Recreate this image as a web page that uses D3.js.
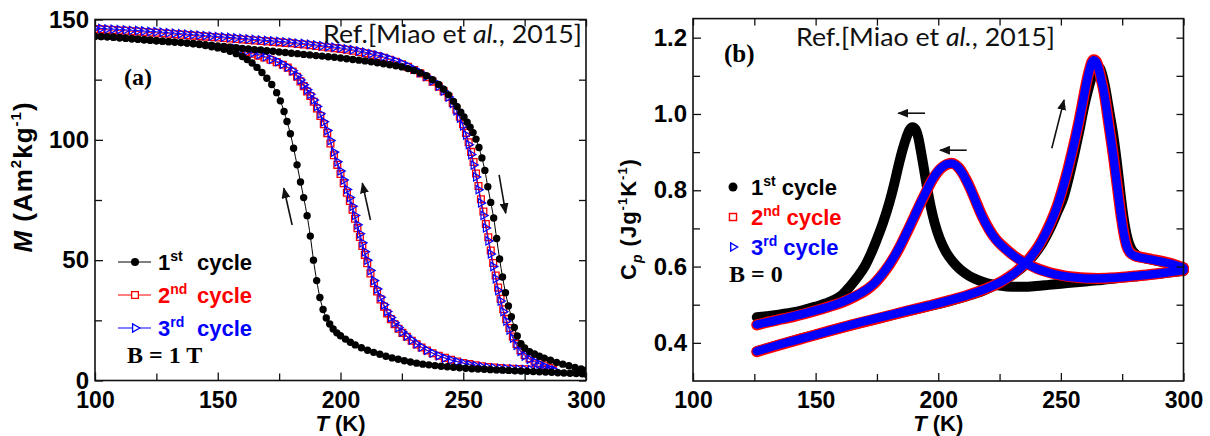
<!DOCTYPE html>
<html><head><meta charset="utf-8">
<script src="https://cdn.jsdelivr.net/npm/d3@7/dist/d3.min.js"></script>
<style>body{margin:0;background:#fff}svg{display:block}</style>
</head><body><svg id="c" width="1210" height="436"></svg>
<script>
// ---------------- DATA: panel (a) M(T), B = 1 T ----------------
const cycle1Low = [[100,143.0],[102.5,142.9],[105,142.8],[107.5,142.6],[110,142.4],[112.5,142.2],[115,142.0],[117.5,141.8],[120,141.6],[122.5,141.4],[125,141.2],[127.5,141.0],[130,140.8],[132.5,140.6],[135,140.4],[137.5,140.2],[140,139.9],[142.5,139.6],[145,139.2],[147.5,138.7],[150,138.2],[152.5,137.6],[155,136.8],[157.5,135.8],[160,134.6],[162,133.4],[164,131.9],[166,130.1],[168,128.0],[170,125.6],[172,123.0],[174,119.6],[175.5,116.2],[177,111.8],[178.2,107.6],[179.6,102.5],[180.9,96.5],[182.3,89.6],[183.7,82.5],[185,76.0],[186.4,68.5],[187.7,60.0],[189,50.0],[190.3,41.5],[191.6,34.5],[192.9,29.5],[194.2,26.0],[195.6,23.5],[197,21.4],[198.5,19.8],[200,18.6],[202,17.2],[204,15.9],[206,14.8],[208.5,13.6],[211,12.6],[213.5,11.7],[216,10.9],[218.5,10.1],[221,9.4],[223.5,8.8],[226,8.2],[228.5,7.7],[231,7.2],[233.5,6.8],[236,6.5],[238.5,6.2],[241,5.9],[243.5,5.7],[246,5.5],[248.5,5.3],[251,5.1],[253.5,4.9],[256,4.8],[258.5,4.7],[261,4.5],[263.5,4.4],[266,4.3],[268.5,4.2],[271,4.0],[273.5,3.9],[276,3.8],[278.5,3.7],[281,3.6],[283.5,3.5],[286,3.4],[288.5,3.2],[291,3.1],[293.5,3.0],[296,2.9],[298.5,2.8],[300,2.7]];
const cycle1High = [[100,143.0],[102.5,142.9],[105,142.8],[107.5,142.6],[110,142.4],[112.5,142.2],[115,142.0],[117.5,141.8],[120,141.6],[122.5,141.4],[125,141.2],[127.5,141.0],[130,140.8],[132.5,140.6],[135,140.4],[137.5,140.2],[140,140.0],[142.5,139.8],[145,139.5],[147.5,139.3],[150,139.0],[152.5,138.8],[155,138.5],[157.5,138.3],[160,138.0],[162.5,137.8],[165,137.5],[167.5,137.3],[170,137.0],[172.5,136.8],[175,136.5],[177.5,136.3],[180,136.0],[182.5,135.8],[185,135.5],[187.5,135.3],[190,135.0],[192.5,134.8],[195,134.5],[197.5,134.3],[200,134.0],[202.5,133.7],[205,133.4],[207.5,133.1],[210,132.8],[212.5,132.4],[215,132.0],[217.5,131.6],[220,131.2],[222.5,130.8],[225,130.3],[227.5,129.6],[230,128.8],[232.5,127.8],[235,126.6],[237.5,125.0],[240,123.0],[242,121.0],[244,118.7],[246,116.0],[247.5,113.8],[249,111.5],[250.3,109.5],[251.6,107.3],[252.8,105.2],[254,103.0],[255.2,100.3],[256.4,96.8],[257.6,92.5],[258.8,87.3],[260,80.5],[261.2,74.0],[262.4,67.5],[263.6,59.0],[264.8,50.5],[266,43.0],[267.2,36.5],[268.4,31.0],[269.6,26.5],[270.8,22.0],[272,18.5],[273.5,15.3],[275,13.5],[277,12.0],[279,11.0],[281,10.1],[283,9.3],[285.5,8.4],[288,7.5],[290.5,6.8],[293,6.1],[295.5,5.4],[298,4.8],[300,4.3]];
const cycle2Low = [[154,138.2],[156.5,137.7],[159,137.1],[161.5,136.5],[164,135.8],[166.5,135.0],[169,134.2],[171.5,133.3],[174,132.3],[176.5,131.2],[178.5,130.0],[180.5,128.4],[182.3,126.2],[183.7,124.3],[185,122.3],[186.4,120.1],[187.7,118.2],[189.1,115.8],[190.4,113.0],[191.8,109.9],[193.2,106.5],[194.6,102.8],[195.9,98.5],[197.3,93.6],[198.7,89.6],[200,85.8],[201.3,82.0],[202.6,78.0],[203.8,74.6],[204.9,71.0],[205.9,67.2],[206.9,63.3],[207.9,59.6],[208.9,55.9],[209.9,52.2],[210.9,48.7],[212.2,44.5],[213.6,40.4],[214.9,37.0],[216.3,33.7],[217.7,30.7],[219,27.9],[220.5,25.5],[222,23.4],[223.6,21.5],[225.2,19.8],[227,18.2],[229,16.5],[231,15.0],[233,13.7],[235.2,12.5],[237.5,11.3],[240,10.3],[242.5,9.4],[245,8.6],[247.5,7.9],[250,7.3],[252.5,6.8],[255,6.3],[257.5,5.9],[260,5.6],[262.5,5.4],[265,5.2],[267.5,5.0],[270,4.9],[272.5,4.8],[275,4.7],[277.5,4.6],[280,4.5],[282.5,4.4],[285,4.3]];
const cycle3Low = [[157,138.0],[159.5,137.5],[162,136.9],[164.5,136.2],[167,135.4],[169.5,134.5],[172,133.5],[174.5,132.5],[176.5,131.4],[178.5,130.2],[180.5,128.7],[182.3,126.7],[183.7,124.9],[185,122.9],[186.4,120.8],[187.7,118.9],[189.1,116.6],[190.4,113.9],[191.8,110.8],[193.2,107.5],[194.6,103.9],[195.9,99.7],[197.3,94.9],[198.7,90.9],[200,87.1],[201.3,83.3],[202.6,79.4],[203.8,76.0],[204.9,72.4],[205.9,68.6],[206.9,64.7],[207.9,61.0],[208.9,57.2],[209.9,53.5],[210.9,50.0],[212.2,45.7],[213.6,41.5],[214.9,38.0],[216.3,34.6],[217.7,31.5],[219,28.7],[220.5,26.2],[222,24.0],[223.6,22.0],[225.2,20.2],[227,18.5],[229,16.8],[231,15.2],[233,13.9],[235.2,12.6],[237.5,11.4],[240,10.3],[242.5,9.3],[245,8.5],[247.5,7.8],[250,7.2],[252.5,6.6],[255,6.1],[257.5,5.7],[260,5.4],[262.5,5.2],[265,5.0],[267.5,4.9],[270,4.8],[272.5,4.7],[275,4.6],[277.5,4.5],[280,4.4],[282.5,4.3],[285,4.2],[287.5,4.1]];
const cycle2High = [[100,146.0],[102.5,145.9],[105,145.7],[107.5,145.6],[110,145.4],[112.5,145.3],[115,145.1],[117.5,145.0],[120,144.8],[122.5,144.6],[125,144.5],[127.5,144.3],[130,144.1],[132.5,143.9],[135,143.7],[137.5,143.5],[140,143.3],[142.5,143.1],[145,142.9],[147.5,142.7],[150,142.5],[152.5,142.3],[155,142.1],[157.5,141.9],[160,141.7],[162.5,141.5],[165,141.3],[167.5,141.1],[170,140.9],[172.5,140.7],[175,140.5],[177.5,140.3],[180,140.1],[182.5,139.8],[185,139.6],[187.5,139.3],[190,139.0],[192.5,138.7],[195,138.4],[197.5,138.1],[200,137.8],[202.5,137.4],[205,137.0],[207.5,136.5],[210,136.0],[212.5,135.4],[215,134.8],[217.5,134.1],[220,133.3],[222.5,132.4],[225,131.4],[227.5,130.3],[230,129.0],[232.5,127.6],[235,126.0],[237.5,124.2],[240,122.1],[242,120.2],[244,117.8],[245.7,115.3],[247.2,112.5],[248.6,109.6],[249.9,106.5],[251.1,102.9],[252.2,99.0],[253.2,95.0],[254.2,90.8],[255.2,86.0],[256.2,80.8],[257.2,75.3],[258.2,70.2],[259.2,65.0],[260.2,59.5],[261.2,54.0],[262.2,48.8],[263.2,43.6],[264.2,38.6],[265.2,34.0],[266.3,29.6],[267.5,25.6],[268.8,21.8],[270.2,18.3],[271.7,15.2],[273.3,12.6],[275,10.6],[277,9.2],[279,8.2],[281,7.2],[283,6.2],[285,5.2],[286.5,4.5]];
const cycle3High = [[100,146.4],[102.5,146.3],[105,146.1],[107.5,146.0],[110,145.8],[112.5,145.7],[115,145.5],[117.5,145.4],[120,145.2],[122.5,145.0],[125,144.9],[127.5,144.7],[130,144.5],[132.5,144.3],[135,144.1],[137.5,143.9],[140,143.7],[142.5,143.5],[145,143.3],[147.5,143.1],[150,142.9],[152.5,142.7],[155,142.5],[157.5,142.3],[160,142.1],[162.5,141.9],[165,141.7],[167.5,141.5],[170,141.3],[172.5,141.1],[175,140.9],[177.5,140.7],[180,140.5],[182.5,140.2],[185,140.0],[187.5,139.7],[190,139.4],[192.5,139.1],[195,138.8],[197.5,138.5],[200,138.2],[202.5,137.8],[205,137.4],[207.5,136.9],[210,136.4],[212.5,135.8],[215,135.2],[217.5,134.5],[220,133.7],[222.5,132.8],[225,131.8],[227.5,130.7],[230,129.4],[232.5,128.0],[235,126.4],[237.5,124.5],[240,122.3],[242,120.3],[244,117.8],[245.7,115.1],[247.2,112.1],[248.6,109.0],[249.9,105.8],[251.1,102.0],[252.2,98.0],[253.2,93.9],[254.2,89.5],[255.2,84.6],[256.2,79.3],[257.2,73.8],[258.2,68.6],[259.2,63.4],[260.2,58.0],[261.2,52.6],[262.2,47.4],[263.2,42.3],[264.2,37.4],[265.2,33.0],[266.3,28.6],[267.5,24.7],[268.8,21.0],[270.2,17.6],[271.7,14.6],[273.3,12.1],[275,10.2],[277,8.8],[279,7.8],[281,6.9],[283,5.9],[285,5.0],[287,4.3]];

// ---------------- DATA: panel (b) Cp(T), B = 0 ----------------
const cp1Low = [[126,0.467],[130,0.470],[135,0.474],[140,0.479],[145,0.486],[150,0.495],[154,0.503],[158,0.514],[161,0.527],[164,0.548],[167,0.572],[170,0.600],[172.5,0.633],[175,0.672],[177.5,0.715],[180,0.766],[182,0.815],[184,0.870],[185.5,0.907],[187,0.938],[188.3,0.958],[189.5,0.965],[190.7,0.960],[191.8,0.940],[193,0.900],[194.2,0.855],[195.5,0.805],[197,0.755],[198.5,0.715],[200.5,0.675],[203,0.640],[206,0.612],[209,0.592],[212.5,0.576],[216,0.565],[220,0.556],[225,0.550],[230,0.547],[235,0.547],[240,0.549],[245,0.552],[250,0.555],[255,0.558],[260,0.561],[265,0.564],[270,0.567],[275,0.571],[280,0.574],[285,0.578],[290,0.581],[295,0.585],[300,0.588]];
const cp1High = [[126,0.378],[135,0.395],[145,0.413],[155,0.430],[165,0.447],[175,0.463],[185,0.479],[195,0.494],[205,0.510],[212,0.523],[218,0.536],[223,0.550],[227,0.564],[231,0.581],[235,0.602],[239,0.630],[242.5,0.662],[245.5,0.698],[248.5,0.742],[251,0.780],[253.5,0.840],[255.5,0.895],[257.5,0.955],[259.5,1.020],[261,1.060],[262.5,1.095],[263.7,1.115],[264.8,1.125],[265.9,1.120],[267,1.100],[268.2,1.065],[269.4,1.020],[270.6,0.975],[271.8,0.925],[272.8,0.875],[273.8,0.820],[274.8,0.765],[276,0.710],[277.3,0.670],[278.8,0.645],[280.5,0.632],[283,0.624],[287,0.618],[291,0.612],[295,0.606],[300,0.597]];
const cp2Low = [[126,0.447],[131,0.455],[136,0.462],[141,0.469],[146,0.477],[151,0.486],[156,0.496],[160,0.504],[164,0.515],[168,0.528],[171,0.540],[174,0.556],[177,0.578],[180,0.604],[182.5,0.630],[185,0.660],[187.5,0.693],[190,0.727],[192.5,0.762],[195,0.795],[197.5,0.826],[200,0.850],[202,0.862],[204,0.869],[205.5,0.871],[207,0.867],[208.5,0.858],[210,0.844],[211.5,0.826],[213,0.806],[215,0.776],[217,0.745],[219,0.718],[221,0.695],[223.5,0.672],[226,0.655],[228.5,0.641],[231,0.628],[234,0.615],[237,0.605],[240,0.596],[244,0.587],[248,0.580],[252,0.575],[256,0.572],[260,0.570],[265,0.569],[270,0.570],[275,0.572],[280,0.575],[285,0.578],[290,0.582],[295,0.586],[300,0.590]];
const cp3Low = [[126,0.448],[131,0.455],[136,0.462],[141,0.470],[146,0.478],[151,0.487],[156,0.496],[160,0.505],[164,0.516],[168,0.529],[171,0.541],[174,0.557],[177,0.579],[180,0.605],[182.5,0.631],[185,0.661],[187.5,0.694],[190,0.728],[192.5,0.763],[195,0.796],[197.5,0.827],[200,0.851],[202,0.863],[204,0.869],[205.5,0.870],[207,0.866],[208.5,0.857],[210,0.843],[211.5,0.825],[213,0.805],[215,0.775],[217,0.744],[219,0.717],[221,0.694],[223.5,0.671],[226,0.654],[228.5,0.640],[231,0.627],[234,0.614],[237,0.604],[240,0.595],[244,0.586],[248,0.579],[252,0.574],[256,0.571],[260,0.569],[265,0.569],[270,0.570],[275,0.572],[280,0.575],[285,0.578],[290,0.582],[295,0.586],[300,0.590]];
const cp2High = [[126,0.377],[135,0.394],[146,0.414],[156,0.432],[166,0.449],[176,0.465],[186,0.481],[196,0.497],[205,0.512],[212,0.525],[217,0.536],[221,0.546],[225,0.558],[228.5,0.572],[232,0.588],[235,0.606],[238,0.628],[241,0.655],[243.5,0.684],[246,0.718],[248.4,0.757],[250.5,0.800],[252.5,0.846],[254.3,0.893],[256,0.940],[257.6,0.988],[259,1.035],[260.3,1.078],[261.5,1.112],[262.6,1.136],[263.5,1.142],[264.4,1.138],[265.4,1.120],[266.4,1.092],[267.5,1.060],[268.5,1.020],[269.5,0.975],[270.4,0.935],[271.4,0.890],[272.4,0.840],[273.4,0.790],[274.5,0.735],[275.6,0.690],[276.8,0.655],[278.2,0.637],[280,0.629],[283,0.624],[287,0.619],[291,0.614],[295,0.608],[300,0.597]];
const cp3High = [[126,0.378],[135,0.395],[146,0.414],[156,0.432],[166,0.450],[176,0.466],[186,0.482],[196,0.497],[205,0.512],[212,0.525],[217,0.536],[221,0.546],[225,0.558],[228.5,0.571],[232,0.587],[235,0.605],[238,0.627],[241,0.654],[243.5,0.683],[246,0.717],[248.4,0.756],[250.5,0.799],[252.5,0.845],[254.3,0.892],[256,0.939],[257.6,0.987],[259,1.034],[260.3,1.077],[261.5,1.111],[262.6,1.135],[263.5,1.141],[264.4,1.137],[265.4,1.119],[266.4,1.091],[267.5,1.059],[268.5,1.019],[269.5,0.974],[270.4,0.934],[271.4,0.889],[272.4,0.839],[273.4,0.789],[274.5,0.734],[275.6,0.689],[276.8,0.654],[278.2,0.636],[280,0.628],[283,0.623],[287,0.618],[291,0.613],[295,0.607],[300,0.596]];

// ---------------- labels / ticks / annotations ----------------
const xMajorTicks = [100,150,200,250,300];
const xMinorTicks = [125,175,225,275];
const mMajorTicks = [0,50,100,150];
const mMinorTicks = [25,75,125];
const cpMajorTicks = [0.4,0.6,0.8,1.0,1.2];
const cpMinorTicks = [0.5,0.7,0.9,1.1];
const legendNums = ["1","2","3"];
const legendSups = ["st","nd","rd"];
const seriesColors = ["#000000","#ff0000","#0000ff"];
// arrows: [T0, y0, T1, y1] tail -> head, in data units
const arrowsA = [[180.3,64.6,176.9,79.9],[212.2,66.7,208.9,82.0],[264.6,85.4,267.3,69.5]];
const arrowsB = [[194.6,1.002,183.7,1.002],[211.6,0.905,200.7,0.905],[246.3,0.91,251.3,1.037]];

// ---------------- drawing ----------------
const svg = d3.select("#c");
const FONT = "'Liberation Sans', Arial, sans-serif";
const TIMES = "'Liberation Serif', 'Times New Roman', serif";

const defs = svg.append("defs");
defs.append("marker").attr("id","ah").attr("markerUnits","userSpaceOnUse")
  .attr("markerWidth",11).attr("markerHeight",9).attr("refX",10).attr("refY",4.5).attr("orient","auto")
  .append("path").attr("d","M0,0 L11,4.5 L0,9 Z").attr("fill","#111");

const xA = d3.scaleLinear([100,300],[95,586]);
const yA = d3.scaleLinear([0,150],[380.5,19.5]);
const xB = d3.scaleLinear([100,300],[693,1183.5]);
const yB = d3.scaleLinear([0.3,1.25],[381,18.6]);

function styleAxis(g, labels, fs){
  g.select(".domain").remove();
  g.selectAll(".tick line").attr("stroke","#111").attr("stroke-width",1.3);
  g.selectAll(".tick text").attr("font-family",FONT).attr("font-weight","bold").attr("font-size",fs||24).attr("fill","#000");
  if(!labels) g.selectAll(".tick text").remove();
}
function frame(x, y, yMaj, yMin, yFmt){
  const [x0,x1] = x.range(); const [y0,y1] = y.range();
  const g = svg.append("g");
  g.append("g").attr("transform",`translate(0,${y0})`)
    .call(d3.axisBottom(x).tickValues(xMajorTicks).tickSizeInner(-8).tickSizeOuter(0).tickPadding(11).tickFormat(d3.format("d")))
    .call(a=>styleAxis(a,true,23));
  g.append("g").attr("transform",`translate(0,${y0})`)
    .call(d3.axisBottom(x).tickValues(xMinorTicks).tickSizeInner(-7).tickSizeOuter(0)).call(a=>styleAxis(a,false));
  g.append("g").attr("transform",`translate(0,${y1})`)
    .call(d3.axisTop(x).tickValues(xMajorTicks.concat(xMinorTicks)).tickSizeInner(-7).tickSizeOuter(0)).call(a=>styleAxis(a,false));
  g.append("g").attr("transform",`translate(${x0},0)`)
    .call(d3.axisLeft(y).tickValues(yMaj).tickSizeInner(-8).tickSizeOuter(0).tickPadding(6).tickFormat(yFmt))
    .call(a=>styleAxis(a,true,24));
  g.append("g").attr("transform",`translate(${x0},0)`)
    .call(d3.axisLeft(y).tickValues(yMin).tickSizeInner(-7).tickSizeOuter(0)).call(a=>styleAxis(a,false));
  g.append("g").attr("transform",`translate(${x1},0)`)
    .call(d3.axisRight(y).tickValues(yMaj.concat(yMin)).tickSizeInner(-7).tickSizeOuter(0)).call(a=>styleAxis(a,false));
  g.append("rect").attr("x",x0).attr("y",y1).attr("width",x1-x0).attr("height",y0-y1)
    .attr("fill","none").attr("stroke","#111").attr("stroke-width",1.6);
  return g;
}

// ---------- panel (a) ----------
defs.append("clipPath").attr("id","clipA").append("rect")
  .attr("x",95).attr("y",19.5).attr("width",491).attr("height",361);
const plotA = svg.append("g").attr("clip-path","url(#clipA)");
const lineA = d3.line().x(d=>xA(d[0])).y(d=>yA(d[1])).curve(d3.curveMonotoneX);
const sq = d3.symbol().type(d3.symbolSquare).size(46);
const tri = d3.symbol().type(d3.symbolTriangle).size(30);

function drawSquares(data){
  plotA.append("path").datum(data).attr("d",lineA).attr("fill","none").attr("stroke","#ff0000").attr("stroke-width",1);
  plotA.append("g").selectAll("path").data(data).join("path")
    .attr("d",sq).attr("transform",d=>`translate(${xA(d[0])},${yA(d[1])})`)
    .attr("fill","none").attr("stroke","#ff0000").attr("stroke-width",1.3);
}
function drawTriangles(data){
  plotA.append("path").datum(data).attr("d",lineA).attr("fill","none").attr("stroke","#0000ff").attr("stroke-width",1);
  plotA.append("g").selectAll("path").data(data).join("path")
    .attr("d",tri).attr("transform",d=>`translate(${xA(d[0])},${yA(d[1])}) rotate(90)`)
    .attr("fill","none").attr("stroke","#0000ff").attr("stroke-width",1.2);
}
function drawCircles(data){
  plotA.append("path").datum(data).attr("d",lineA).attr("fill","none").attr("stroke","#000").attr("stroke-width",1);
  plotA.append("g").selectAll("circle").data(data).join("circle")
    .attr("cx",d=>xA(d[0])).attr("cy",d=>yA(d[1])).attr("r",3.7).attr("fill","#000");
}
drawSquares(cycle2High); drawSquares(cycle2Low);
drawTriangles(cycle3High); drawTriangles(cycle3Low);
drawCircles(cycle1High); drawCircles(cycle1Low);

frame(xA, yA, mMajorTicks, mMinorTicks, d3.format("d"));

// ---------- panel (b) ----------
const plotB = svg.append("g");
const lineB = d3.line().x(d=>xB(d[0])).y(d=>yB(d[1])).curve(d3.curveMonotoneX);
[cp1Low, cp1High].forEach(s=>plotB.append("path").datum(s).attr("d",lineB).attr("fill","none")
  .attr("stroke","#000").attr("stroke-width",10).attr("stroke-linecap","round").attr("stroke-linejoin","round"));
[cp2Low, cp2High].forEach(s=>plotB.append("path").datum(s).attr("d",lineB).attr("fill","none")
  .attr("stroke","#ff0000").attr("stroke-width",11).attr("stroke-linecap","round").attr("stroke-linejoin","round"));
[cp3Low, cp3High].forEach(s=>plotB.append("path").datum(s).attr("d",lineB).attr("fill","none")
  .attr("stroke","#0000ff").attr("stroke-width",8.5).attr("stroke-linecap","round").attr("stroke-linejoin","round"));

frame(xB, yB, cpMajorTicks, cpMinorTicks, d3.format(".1f"));

// ---------- arrows ----------
arrowsA.forEach(a=>svg.append("line").attr("x1",xA(a[0])).attr("y1",yA(a[1])).attr("x2",xA(a[2])).attr("y2",yA(a[3]))
  .attr("stroke","#111").attr("stroke-width",1.6).attr("marker-end","url(#ah)"));
arrowsB.forEach(a=>svg.append("line").attr("x1",xB(a[0])).attr("y1",yB(a[1])).attr("x2",xB(a[2])).attr("y2",yB(a[3]))
  .attr("stroke","#111").attr("stroke-width",1.6).attr("marker-end","url(#ah)"));

// ---------- axis titles ----------
function tTitle(cx){
  const t = svg.append("text").attr("x",cx).attr("y",431).attr("text-anchor","middle")
    .attr("font-family",FONT).attr("font-weight","bold").attr("font-size",22);
  t.append("tspan").attr("font-style","italic").text("T");
  t.append("tspan").text(" (K)");
}
tTitle(xA(200)); tTitle(xB(200));

const mt = svg.append("text").attr("transform","translate(32,177) rotate(-90)").attr("text-anchor","middle")
  .attr("font-family",FONT).attr("font-weight","bold").attr("font-size",26).attr("letter-spacing",1);
mt.append("tspan").attr("font-style","italic").text("M");
mt.append("tspan").text(" (Am");
mt.append("tspan").attr("font-size",15).attr("dy",-11).text("2");
mt.append("tspan").attr("dy",11).text("kg");
mt.append("tspan").attr("font-size",15).attr("dy",-11).text("-1");
mt.append("tspan").attr("dy",11).text(")");

const ct = svg.append("text").attr("transform","translate(636,219) rotate(-90)").attr("text-anchor","middle")
  .attr("font-family",FONT).attr("font-weight","bold").attr("font-size",22).attr("letter-spacing",1);
ct.append("tspan").text("C");
ct.append("tspan").attr("font-size",14).attr("font-style","italic").attr("dy",6).text("p");
ct.append("tspan").attr("dy",-6).text(" (Jg");
ct.append("tspan").attr("font-size",13).attr("dy",-9).text("-1");
ct.append("tspan").attr("dy",9).text("K");
ct.append("tspan").attr("font-size",13).attr("dy",-9).text("-1");
ct.append("tspan").attr("dy",9).text(")");

// ---------- panel labels + refs ----------
svg.append("text").attr("x",124).attr("y",85).attr("font-family",TIMES).attr("font-weight","bold").attr("font-size",24).text("(a)");
svg.append("text").attr("x",724).attr("y",62).attr("font-family",TIMES).attr("font-weight","bold").attr("font-size",25).text("(b)");
function ref(x, y){
  const t = svg.append("text").attr("x",x).attr("y",y).attr("font-family","Lato, 'Open Sans', sans-serif")
    .attr("font-size",25).attr("textLength",259).attr("lengthAdjust","spacingAndGlyphs").attr("fill","#111");
  t.append("tspan").text("Ref.[Miao et ");
  t.append("tspan").attr("font-style","italic").text("al.");
  t.append("tspan").text(", 2015]");
}
ref(323, 43); ref(796, 46);

// ---------- legend (a) ----------
const legIdx = [0,1,2];
legIdx.forEach(i=>{
  const cy = 262 + i*33;
  svg.append("line").attr("x1",118).attr("x2",151).attr("y1",cy).attr("y2",cy).attr("stroke",seriesColors[i]).attr("stroke-width",1.2);
  if(i===0) svg.append("circle").attr("cx",135).attr("cy",cy).attr("r",4).attr("fill","#000");
  if(i===1) svg.append("path").attr("d",sq).attr("transform",`translate(135,${cy})`).attr("fill","#fff").attr("stroke","#ff0000").attr("stroke-width",1.3);
  if(i===2) svg.append("path").attr("d",tri).attr("transform",`translate(135,${cy}) rotate(90)`).attr("fill","#fff").attr("stroke","#0000ff").attr("stroke-width",1.3);
  const t = svg.append("text").attr("x",158).attr("y",cy+8).attr("font-family",FONT).attr("font-weight","bold").attr("font-size",22).attr("fill",seriesColors[i]);
  t.append("tspan").text(legendNums[i]);
  t.append("tspan").attr("font-size",14).attr("dy",-9).text(legendSups[i]);
  t.append("tspan").attr("x",197).attr("dy",9).text("cycle");
});
svg.append("text").attr("x",127).attr("y",363).attr("font-family",TIMES).attr("font-weight","bold").attr("font-size",24).text("B = 1 T");

// ---------- legend (b) ----------
legIdx.forEach(i=>{
  const cy = 187 + i*30;
  if(i===0) svg.append("circle").attr("cx",733).attr("cy",cy).attr("r",4.5).attr("fill","#000");
  if(i===1) svg.append("path").attr("d",d3.symbol().type(d3.symbolSquare).size(50)).attr("transform",`translate(733,${cy})`).attr("fill","#fff").attr("stroke","#ff0000").attr("stroke-width",1.4);
  if(i===2) svg.append("path").attr("d",d3.symbol().type(d3.symbolTriangle).size(28)).attr("transform",`translate(733,${cy}) rotate(90)`).attr("fill","#fff").attr("stroke","#0000ff").attr("stroke-width",1.4);
  const t = svg.append("text").attr("x",751).attr("y",cy+8).attr("font-family",FONT).attr("font-weight","bold").attr("font-size",22).attr("fill",seriesColors[i]);
  t.append("tspan").text(legendNums[i]);
  t.append("tspan").attr("font-size",14).attr("dy",-9).text(legendSups[i]);
  t.append("tspan").attr("dy",9).text(" cycle");
});
svg.append("text").attr("x",729).attr("y",282).attr("font-family",TIMES).attr("font-weight","bold").attr("font-size",24).text("B = 0");
</script></body></html>
